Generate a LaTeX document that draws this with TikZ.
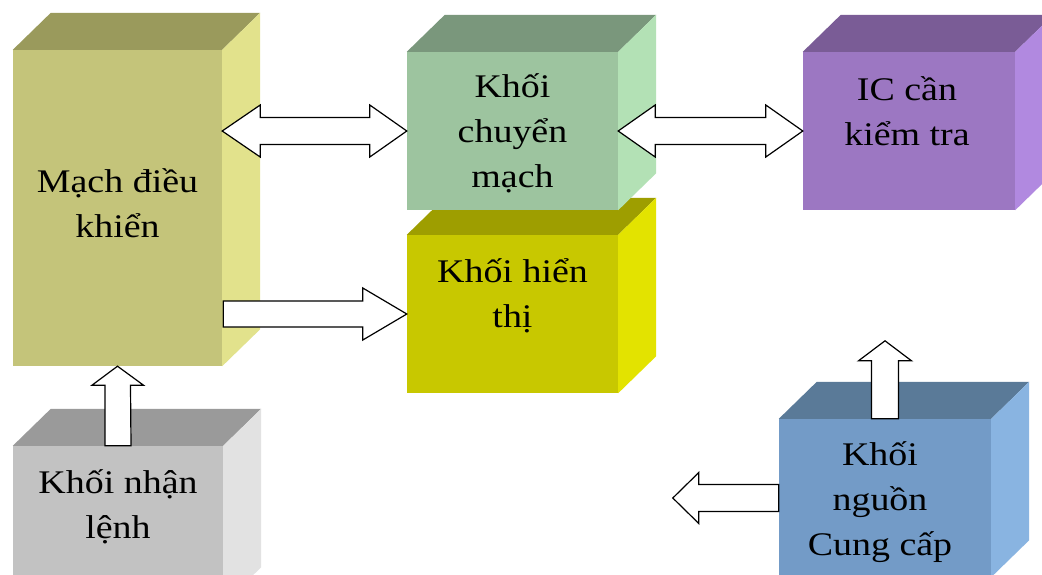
\documentclass[tikz,border=0pt]{standalone}
\usepackage{fontspec}
\setmainfont{Liberation Serif}[FakeStretch=1.15]
\usetikzlibrary{calc}

\definecolor{machF}{HTML}{C4C47A}
\definecolor{machT}{HTML}{9A9A5C}
\definecolor{machS}{HTML}{E2E28C}
\definecolor{chuyenF}{HTML}{9DC49F}
\definecolor{chuyenT}{HTML}{7A977C}
\definecolor{chuyenS}{HTML}{B3E1B5}
\definecolor{icF}{HTML}{9C77C2}
\definecolor{icT}{HTML}{7A5C96}
\definecolor{icS}{HTML}{B189E0}
\definecolor{hienF}{HTML}{C8C800}
\definecolor{hienT}{HTML}{9E9E00}
\definecolor{hienS}{HTML}{E3E300}
\definecolor{nhanF}{HTML}{C2C2C2}
\definecolor{nhanT}{HTML}{9A9A9A}
\definecolor{nhanS}{HTML}{E2E2E2}
\definecolor{nguonF}{HTML}{739BC7}
\definecolor{nguonT}{HTML}{5A7A98}
\definecolor{nguonS}{HTML}{89B4E1}

\tikzset{
  front/.style={draw=none, inner sep=0pt, minimum width=#1},
  blocktext/.style={align=center, inner sep=0pt,
    font=\fontsize{33}{45}\selectfont},
  fatarrow/.style={draw=black, fill=white, line width=1.2pt, line join=miter}
}

% top and right faces of a block, #1 = front node
\newcommand{\blocksides}[3]{%
  \fill[#2] (#1.north west) -- ++(38,-37) -- ($(#1.north east)+(38,-37)$) -- (#1.north east) -- cycle;
  \fill[#3] (#1.north east) -- ++(38,-37) -- ($(#1.south east)+(38,-37)$) -- (#1.south east) -- cycle;
}

\begin{document}
\begin{tikzpicture}[x=1pt,y=-1pt]
\useasboundingbox (0,0) rectangle (1042,574);
\clip (0,0) rectangle (1042,574);
\fill[white] (0,0) rectangle (1042,574);
% Drawing blocks
\node[front=209pt, minimum height=316pt, fill=machF] (mach) at (117.5,208) {};
\blocksides{mach}{machT}{machS}
\node[front=211pt, minimum height=158pt, fill=hienF] (hienthi) at (512.5,314) {};
\blocksides{hienthi}{hienT}{hienS}
\node[front=211pt, minimum height=158pt, fill=chuyenF] (chuyen) at (512.5,131) {};
\blocksides{chuyen}{chuyenT}{chuyenS}
\node[front=212pt, minimum height=158pt, fill=icF] (ic) at (909,131) {};
\blocksides{ic}{icT}{icS}
\node[front=210pt, minimum height=158pt, fill=nhanF] (nhan) at (118,525) {};
\blocksides{nhan}{nhanT}{nhanS}
\node[front=212pt, minimum height=158pt, fill=nguonF] (nguon) at (885,498) {};
\blocksides{nguon}{nguonT}{nguonS}
% Block texts
\node[blocktext] (machtxt) at ($(mach.center)+(0,-5)$) {Mạch điều\\khiển};
\node[blocktext] (chuyentxt) at ($(chuyen.center)+(0,2)$) {Khối\\chuyển\\mạch};
\node[blocktext] (ictxt) at ($(ic.center)+(-2,-20)$) {IC cần\\kiểm tra};
\node[blocktext] (hienthitxt) at ($(hienthi.center)+(0,-18)$) {Khối hiển\\thị};
\node[blocktext] (nhantxt) at ($(nhan.center)+(0,-18)$) {Khối nhận\\lệnh};
\node[blocktext] (nguontxt) at ($(nguon.center)+(-5,4)$) {Khối\\nguồn\\Cung cấp};
% Drawing arrows
% mach <-> chuyen
\coordinate (a1) at (mach.east |- chuyen.west);
\draw[fatarrow] (a1) -- ++(38,-26) -- ++(0,12.5) -- ($(chuyen.west)+(-37,-13.5)$) -- ++(0,-12.5)
  -- (chuyen.west) -- ++(-37,26) -- ++(0,-12.5) -- ($(a1)+(38,13.5)$) -- ++(0,12.5) -- cycle;
% chuyen <-> ic
\draw[fatarrow] (chuyen.east) -- ++(37,-26) -- ++(0,12.5) -- ($(ic.west)+(-37,-13.5)$) -- ++(0,-12.5)
  -- (ic.west) -- ++(-37,26) -- ++(0,-12.5) -- ($(chuyen.east)+(37,13.5)$) -- ++(0,12.5) -- cycle;
% mach -> hienthi
\coordinate (a3) at (mach.east |- hienthi.west);
\draw[fatarrow] ($(a3)+(1,-13)$) -- ($(hienthi.west)+(-44,-13)$) -- ++(0,-13) -- (hienthi.west)
  -- ++(-44,26) -- ++(0,-13) -- ($(a3)+(1,13)$) -- cycle;
% nhan -> mach
\draw[fatarrow] ($(nhan.north)+(-13,0)$) -- ($(mach.south)+(-12.5,19)$) -- ++(-13,0) -- (mach.south)
  -- ++(26,19) -- ++(-13,0) -- ($(nhan.north)+(13,0)$) -- cycle;
% nguon -> up
\coordinate (up) at ($(nguon.north)+(0,-78)$);
\draw[fatarrow] ($(nguon.north)+(-13.5,0)$) -- ($(up)+(-13.5,20)$) -- ++(-13,0) -- (up)
  -- ++(26.5,20) -- ++(-13,0) -- ($(nguon.north)+(13.5,0)$) -- cycle;
% nguon -> left
\coordinate (left) at ($(nguon.west)+(-106,0)$);
\draw[fatarrow] ($(nguon.west)+(0,-13.5)$) -- ($(left)+(26,-13.5)$) -- ++(0,-12) -- (left)
  -- ++(26,25.5) -- ++(0,-12) -- ($(nguon.west)+(0,13.5)$) -- cycle;
\end{tikzpicture}
\end{document}
